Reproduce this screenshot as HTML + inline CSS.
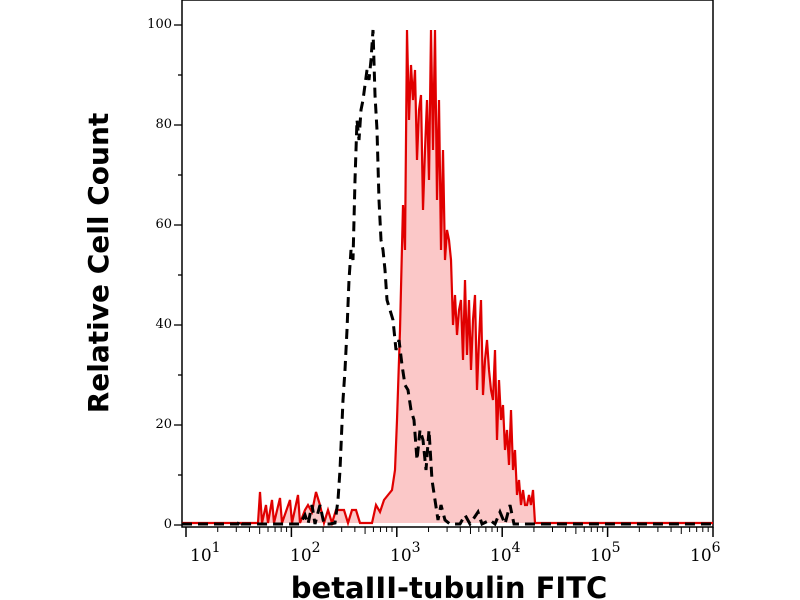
<!DOCTYPE html>
<html><head><meta charset="utf-8"><style>
html,body{margin:0;padding:0;background:#fff;width:800px;height:600px;overflow:hidden}
</style></head><body>
<svg id="s" width="800" height="600" xmlns="http://www.w3.org/2000/svg">
<rect x="182" y="0" width="531" height="527" fill="none" stroke="#000" stroke-width="1.5"/>
<g id="g"></g>
<text x="108" y="263" transform="rotate(-90 108 263)" text-anchor="middle" font-family="DejaVu Sans, sans-serif" font-weight="bold" font-size="28">Relative Cell Count</text>
<text x="449" y="598" text-anchor="middle" font-family="DejaVu Sans, sans-serif" font-weight="bold" font-size="29">betaIII-tubulin FITC</text>
</svg>
<script>
var g=document.getElementById('g'),h='';
var X0=186,D=105.4,B=525;
for(var v=0;v<=100;v+=10){var y=B-v*5;var maj=v%20==0;h+='<line x1="'+(maj?174:178)+'" x2="182" y1="'+y+'" y2="'+y+'" stroke="#000" stroke-width="1.3"/>';
if(maj)h+='<text x="172" y="'+(y+3)+'" text-anchor="end" font-family="DejaVu Serif, serif" font-size="13">'+v+'</text>';}
for(var d=1;d<=6;d++){var x=X0+(d-1)*D;h+='<line x1="'+x+'" x2="'+x+'" y1="527" y2="537" stroke="#000" stroke-width="1.5"/>';
h+='<text x="'+(190+100*(d-1))+'" y="561" text-anchor="start" font-family="DejaVu Serif, serif" font-size="17">10<tspan dy="-9" font-size="14">'+d+'</tspan></text>';
if(d<6)for(var k=2;k<10;k++){var xm=x+Math.log10(k)*D;h+='<line x1="'+xm+'" x2="'+xm+'" y1="527" y2="'+(k==5?534:532)+'" stroke="#000" stroke-width="1"/>';}}
var red=[[182,523],[258,523],[260,492],[262,523],[266,505],[268,523],[272,500],[274,523],[280,498],[282,523],[290,500],[292,523],[298,495],[300,523],[305,510],[308,505],[312,512],[316,492],[320,505],[324,523],[328,510],[332,523],[336,510],[340,510],[344,510],[348,523],[352,510],[356,510],[360,523],[372,523],[376,505],[380,512],[384,500],[388,495],[392,490],[395,470],[397,420],[400,330],[403,205],[405,250],[407,30],[409,120],[411,65],[413,100],[415,70],[417,160],[419,110],[421,95],[423,210],[425,150],[427,100],[429,180],[431,30],[433,150],[435,30],[437,200],[439,100],[441,250],[443,150],[445,260],[447,230],[449,240],[451,260],[453,325],[455,295],[457,335],[459,310],[461,300],[463,360],[465,280],[467,355],[469,300],[471,370],[473,320],[475,295],[477,390],[479,340],[481,300],[483,395],[485,360],[487,340],[489,370],[491,390],[493,400],[495,350],[497,440],[499,380],[501,420],[503,405],[505,450],[507,430],[509,465],[511,410],[513,470],[515,450],[517,495],[519,480],[521,505],[523,490],[525,505],[527,505],[529,495],[531,505],[533,490],[535,523],[713,523]];
var p=red.map(function(a,i){return (i?'L':'M')+a[0]+' '+a[1]}).join('');
h+='<path d="'+p+'Z" fill="#fbc8c8" stroke="none"/>';
h+='<path d="'+p+'" fill="none" stroke="#e00000" stroke-width="2.2" stroke-linejoin="miter"/>';
var blk=[[182,524],[238,524],[240,520],[242,524],[300,524],[305,515],[308,524],[312,505],[315,524],[320,505],[324,524],[330,524],[335,523],[338,500],[340,470],[343,400],[345,370],[347,330],[349,280],[351,250],[353,260],[355,180],[357,120],[359,140],[361,110],[363,100],[365,85],[367,70],[369,80],[371,60],[373,30],[375,95],[377,130],[379,200],[381,240],[383,250],[385,270],[387,300],[390,310],[393,320],[396,350],[399,340],[402,365],[405,385],[408,390],[411,410],[414,420],[417,460],[420,430],[423,440],[426,470],[429,430],[432,480],[435,500],[438,520],[441,505],[445,520],[450,524],[460,524],[465,515],[470,524],[478,512],[482,524],[490,520],[495,524],[500,512],[505,524],[510,505],[514,524],[713,524]];
var q=blk.map(function(a,i){return (i?'L':'M')+a[0]+' '+a[1]}).join('');
h+='<path d="'+q+'" fill="none" stroke="#000" stroke-width="3" stroke-dasharray="10,6"/>';
g.innerHTML=h;
</script>
</body></html>
